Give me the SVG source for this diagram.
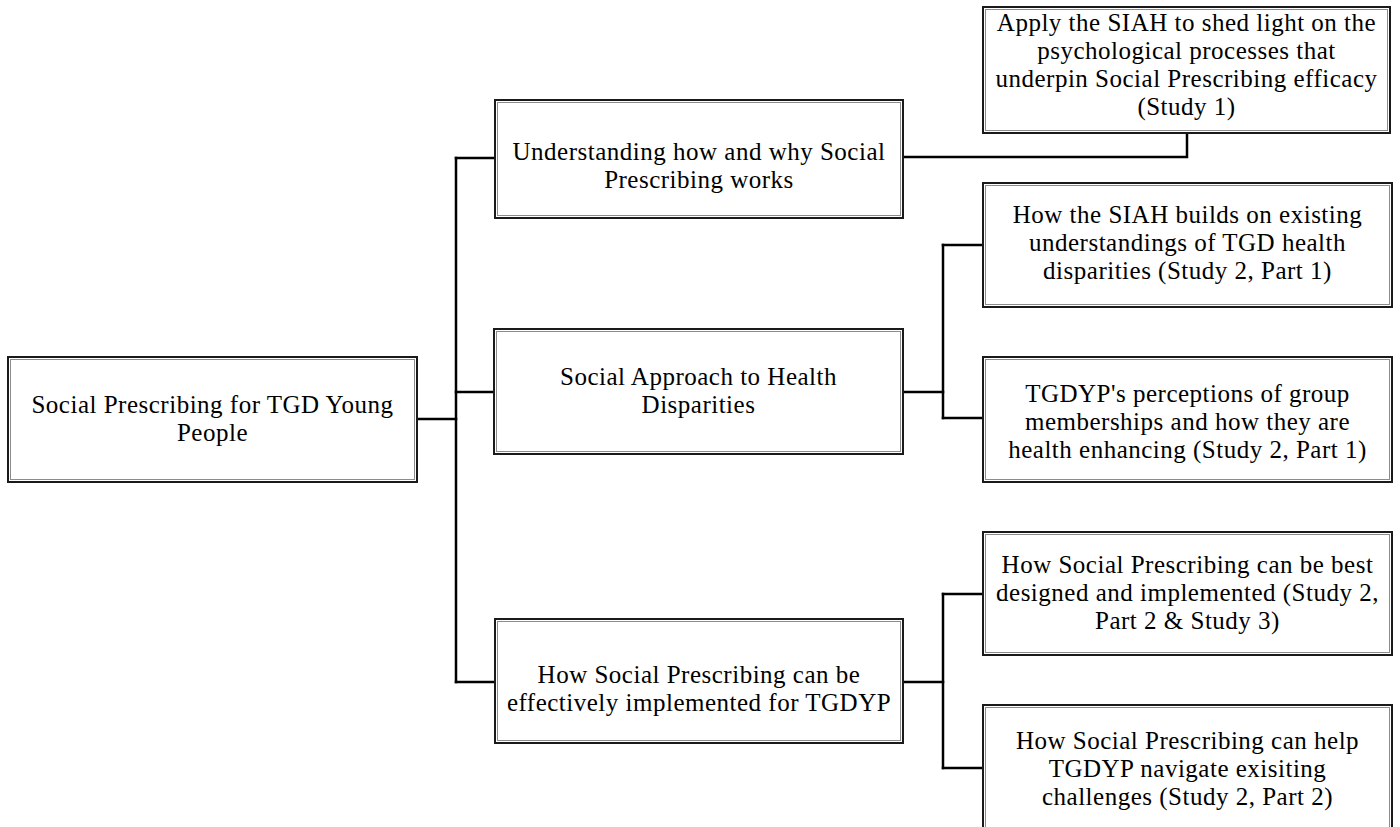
<svg xmlns="http://www.w3.org/2000/svg" width="1400" height="827" viewBox="0 0 1400 827">
  <style>
    .box-outer { fill: #ffffff; stroke: #1a1a1a; stroke-width: 2; }
    .box-inner { fill: none; stroke: #8c8c8c; stroke-width: 1; }
    .label { font-family: "Liberation Serif", "Times New Roman", serif; font-size: 25px; letter-spacing: 0.5px; fill: #000000; text-anchor: middle; }
    .link { fill: none; stroke: #000000; stroke-width: 2.5; stroke-linecap: square; stroke-linejoin: miter; }
  </style>
  <rect width="1400" height="827" fill="#ffffff"/>

  <!-- tree connectors -->
  <g id="connectors">
    <path class="link" d="M417 419 H456"/>
    <path class="link" d="M456 158 V682"/>
    <path class="link" d="M456 158 H495"/>
    <path class="link" d="M456 392 H494"/>
    <path class="link" d="M456 682 H495"/>
    <path class="link" d="M903 157 H1187 V133"/>
    <path class="link" d="M903 392 H943"/>
    <path class="link" d="M943 245 V418"/>
    <path class="link" d="M943 245 H983"/>
    <path class="link" d="M943 418 H983"/>
    <path class="link" d="M903 682 H943"/>
    <path class="link" d="M943 594 V768"/>
    <path class="link" d="M943 594 H983"/>
    <path class="link" d="M943 768 H983"/>
  </g>

  <!-- root -->
  <g id="root">
    <rect class="box-outer" x="8" y="357" width="409" height="125"/>
    <rect class="box-inner" x="10.5" y="359.5" width="404" height="120"/>
    <text class="label" x="212.5" y="412.5">Social Prescribing for TGD Young</text>
    <text class="label" x="212.5" y="440.5">People</text>
  </g>

  <!-- second level -->
  <g id="understanding">
    <rect class="box-outer" x="495" y="100" width="408" height="118"/>
    <rect class="box-inner" x="497.5" y="102.5" width="403" height="113"/>
    <text class="label" x="699" y="159.5">Understanding how and why Social</text>
    <text class="label" x="699" y="187.5">Prescribing works</text>
  </g>

  <g id="social-approach">
    <rect class="box-outer" x="494" y="329" width="409" height="125"/>
    <rect class="box-inner" x="496.5" y="331.5" width="404" height="120"/>
    <text class="label" x="698.5" y="385">Social Approach to Health</text>
    <text class="label" x="698.5" y="413">Disparities</text>
  </g>

  <g id="implementation">
    <rect class="box-outer" x="495" y="619" width="408" height="124"/>
    <rect class="box-inner" x="497.5" y="621.5" width="403" height="119"/>
    <text class="label" x="699" y="682.5">How Social Prescribing can be</text>
    <text class="label" x="699" y="710.5">effectively implemented for TGDYP</text>
  </g>

  <!-- third level -->
  <g id="study1">
    <rect class="box-outer" x="983" y="7" width="407" height="126"/>
    <rect class="box-inner" x="985.5" y="9.5" width="402" height="121"/>
    <text class="label" x="1186.5" y="31">Apply the SIAH to shed light on the</text>
    <text class="label" x="1186.5" y="59">psychological processes that</text>
    <text class="label" x="1186.5" y="87">underpin Social Prescribing efficacy</text>
    <text class="label" x="1186.5" y="115">(Study 1)</text>
  </g>

  <g id="siah-builds">
    <rect class="box-outer" x="983" y="183" width="409" height="124"/>
    <rect class="box-inner" x="985.5" y="185.5" width="404" height="119"/>
    <text class="label" x="1187.5" y="223">How the SIAH builds on existing</text>
    <text class="label" x="1187.5" y="251">understandings of TGD health</text>
    <text class="label" x="1187.5" y="279">disparities (Study 2, Part 1)</text>
  </g>

  <g id="perceptions">
    <rect class="box-outer" x="983" y="357" width="409" height="125"/>
    <rect class="box-inner" x="985.5" y="359.5" width="404" height="120"/>
    <text class="label" x="1187.5" y="402">TGDYP's perceptions of group</text>
    <text class="label" x="1187.5" y="430">memberships and how they are</text>
    <text class="label" x="1187.5" y="458">health enhancing (Study 2, Part 1)</text>
  </g>

  <g id="best-designed">
    <rect class="box-outer" x="983" y="532" width="409" height="123"/>
    <rect class="box-inner" x="985.5" y="534.5" width="404" height="118"/>
    <text class="label" x="1187.5" y="573">How Social Prescribing can be best</text>
    <text class="label" x="1187.5" y="601">designed and implemented (Study 2,</text>
    <text class="label" x="1187.5" y="629">Part 2 &amp; Study 3)</text>
  </g>

  <g id="navigate">
    <rect class="box-outer" x="983" y="705" width="409" height="130"/>
    <rect class="box-inner" x="985.5" y="707.5" width="404" height="125"/>
    <text class="label" x="1187.5" y="749">How Social Prescribing can help</text>
    <text class="label" x="1187.5" y="777">TGDYP navigate exisiting</text>
    <text class="label" x="1187.5" y="805">challenges (Study 2, Part 2)</text>
  </g>
</svg>
